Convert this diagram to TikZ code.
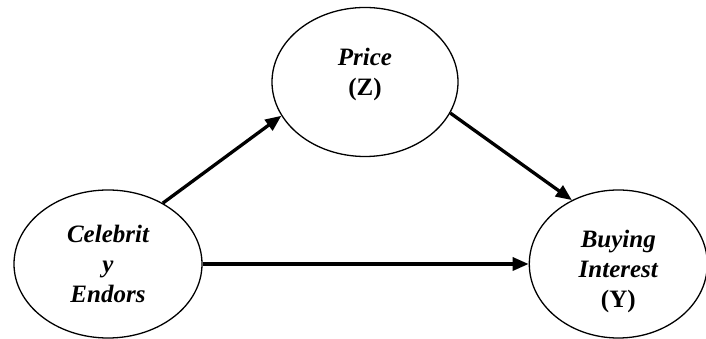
\documentclass[tikz,border=0pt]{standalone}
\usepackage{fontspec}
\setmainfont{Liberation Serif}
\usetikzlibrary{arrows.meta,shapes.geometric}
\usetikzlibrary{positioning}
\tikzstyle{var} = [ellipse, draw=black, line width=1.3pt, inner sep=0pt, align=center, minimum height=148pt, font=\fontsize{25}{30}\selectfont\bfseries\itshape]
\tikzstyle{link} = [line width=3.3pt, -{Triangle[length=16pt,width=13pt]}]

\begin{document}
\begin{tikzpicture}[x=1pt,y=1pt,node distance=326pt]
\useasboundingbox (0,0) rectangle (706,339);

\node (celeb) [var, minimum width=188pt] at (108,75) {Celebrit\\y\\Endors};
\node (buying) [var, minimum width=178pt, text height=93pt, right=of celeb] {Buying\\Interest\\{\upshape (Y)}};
\node (price) [var, minimum width=186pt, minimum height=149pt, text depth=20pt] at (365,257) {Price\\{\upshape (Z)}};

\draw [link] (celeb.48) -- (price.202);
\draw [link] (price.340) -- (buying.126);
\draw [link] (celeb) -- (buying);
\end{tikzpicture}
\end{document}
